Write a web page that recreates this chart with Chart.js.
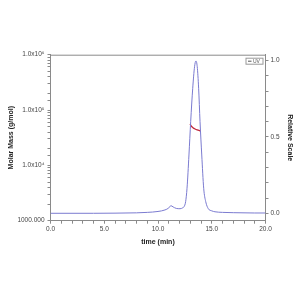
<!DOCTYPE html>
<html>
<head>
<meta charset="utf-8">
<script src="https://cdn.jsdelivr.net/npm/chart.js@4.4.0/dist/chart.umd.min.js"></script>
<style>
  html, body { margin: 0; padding: 0; background: #fff; }
  #wrap { width: 300px; height: 300px; }
</style>
</head>
<body>
<div id="wrap"><canvas id="myChart" width="300" height="300"></canvas></div>
<script>
// UV trace (relative scale)
const uvTime = [0, 2, 4, 6, 8, 9, 10, 10.65, 11.0, 11.2, 11.4, 11.7, 12.05, 12.3, 12.42, 12.57, 12.7, 12.88, 13.04, 13.23, 13.4, 13.53, 13.65, 13.78, 13.91, 14.07, 14.25, 14.44, 14.68, 15.0, 15.3, 16, 17, 18, 19, 20];
const uvSignal = [0.0, 0.0, 0.0, 0.001, 0.003, 0.006, 0.012, 0.022, 0.035, 0.05, 0.042, 0.032, 0.03, 0.036, 0.043, 0.076, 0.164, 0.382, 0.60, 0.819, 0.96, 0.998, 0.96, 0.819, 0.60, 0.382, 0.164, 0.076, 0.03, 0.016, 0.01, 0.006, 0.004, 0.003, 0.002, 0.002];

// molar mass across the main peak (g/mol)
const mmTime = [12.98, 13.1, 13.25, 13.45, 13.65, 13.85, 13.97];
const mmMass = [56000, 51000, 48000, 45500, 43800, 42500, 41800];

// labelled ticks
const massTicks = [1000, 10000, 100000, 1000000];
const relTicks = [0.0, 0.5, 1.0];
const timeTicks = [0, 5, 10, 15, 20];

const sup = { '0': '⁰', '1': '¹', '2': '²', '3': '³', '4': '⁴', '5': '⁵', '6': '⁶', '7': '⁷', '8': '⁸', '9': '⁹' };
const axisColor = '#8a8a8a';
const labelFont = { family: 'Liberation Sans', size: 6.5 };
const titleFont = { family: 'Liberation Sans', size: 7, weight: 'bold' };

// frame line on top + small legend box
const framePlugin = {
    id: 'frame',
    afterDraw(chart) {
        const { ctx, chartArea } = chart;
        ctx.save();
        ctx.strokeStyle = axisColor;
        ctx.lineWidth = 1;
        ctx.beginPath();
        ctx.moveTo(chartArea.left, chartArea.top + 0.5);
        ctx.lineTo(chartArea.right, chartArea.top + 0.5);
        ctx.stroke();

        // legend
        const bx = chartArea.right - 20, by = chartArea.top + 3;
        ctx.strokeStyle = '#999';
        ctx.strokeRect(bx + 0.5, by + 0.5, 17, 6);
        ctx.strokeStyle = '#555';
        ctx.beginPath();
        ctx.moveTo(bx + 2.5, by + 3.5);
        ctx.lineTo(bx + 6, by + 3.5);
        ctx.stroke();
        ctx.fillStyle = '#555';
        ctx.font = '5px "Liberation Sans"';
        ctx.textBaseline = 'middle';
        ctx.fillText('UV', bx + 7.5, by + 3.7);
        ctx.restore();
    }
};

const ctx = document.getElementById('myChart').getContext('2d');

window.myChart = new Chart(ctx, {
    type: 'line',
    data: {
        datasets: [{
            label: 'UV',
            data: uvTime.map((t, i) => ({ x: t, y: uvSignal[i] })),
            yAxisID: 'y1',
            borderColor: '#7b7bd0',
            borderWidth: 1,
            pointRadius: 0,
            cubicInterpolationMode: 'monotone',
            fill: false
        }, {
            label: 'Molar Mass',
            data: mmTime.map((t, i) => ({ x: t, y: mmMass[i] })),
            yAxisID: 'y',
            borderColor: '#c0283c',
            borderWidth: 1.3,
            pointRadius: 0,
            cubicInterpolationMode: 'monotone',
            fill: false
        }]
    },
    options: {
        responsive: false,
        animation: false,
        layout: { padding: { top: 54.7, bottom: 49.3, left: 0, right: 0 } },
        plugins: {
            legend: { display: false },
            tooltip: { enabled: false }
        },
        scales: {
            x: {
                type: 'linear',
                position: 'bottom',
                min: 0,
                max: 20,
                afterFit: s => { s.height = 30; },
                border: { color: axisColor },
                grid: { drawOnChartArea: false, drawTicks: true, tickLength: 3, color: axisColor },
                ticks: {
                    stepSize: 1,
                    autoSkip: false,
                    maxRotation: 0,
                    padding: 2,
                    color: '#444',
                    font: labelFont,
                    callback: v => timeTicks.includes(v) ? v.toFixed(1) : ''
                },
                title: { display: true, text: 'time (min)', color: '#222', font: titleFont, padding: { top: 0, bottom: 4.5 } }
            },
            y: {
                type: 'logarithmic',
                position: 'left',
                min: 1000,
                max: 1000000,
                afterFit: s => { s.width = 50.5; },
                border: { color: axisColor },
                grid: { drawOnChartArea: false, drawTicks: true, tickLength: 3, color: axisColor },
                ticks: {
                    autoSkip: false,
                    padding: 3,
                    color: '#444',
                    font: labelFont,
                    callback: v => {
                        if (!massTicks.includes(v)) return '';
                        if (v === 1000) return '1000.000';
                        const e = String(Math.round(Math.log10(v)));
                        return '1.0x10' + e.split('').map(c => sup[c]).join('');
                    }
                },
                title: { display: true, text: 'Molar Mass (g/mol)', color: '#222', font: titleFont, padding: { top: 6.5, bottom: 0 } }
            },
            y1: {
                type: 'linear',
                position: 'right',
                min: -0.0485,
                max: 1.039,
                afterFit: s => { s.width = 34.5; },
                border: { color: axisColor },
                grid: { drawOnChartArea: false, drawTicks: true, tickLength: 3, color: axisColor },
                ticks: {
                    stepSize: 0.1,
                    includeBounds: false,
                    autoSkip: false,
                    padding: 2,
                    color: '#444',
                    font: labelFont,
                    callback: v => relTicks.some(r => Math.abs(r - v) < 1e-6) ? v.toFixed(1) : ''
                },
                title: { display: true, text: 'Relative Scale', color: '#222', font: titleFont, padding: { top: 5.8, bottom: 0 } }
            }
        }
    },
    plugins: [framePlugin]
});
</script>
</body>
</html>
